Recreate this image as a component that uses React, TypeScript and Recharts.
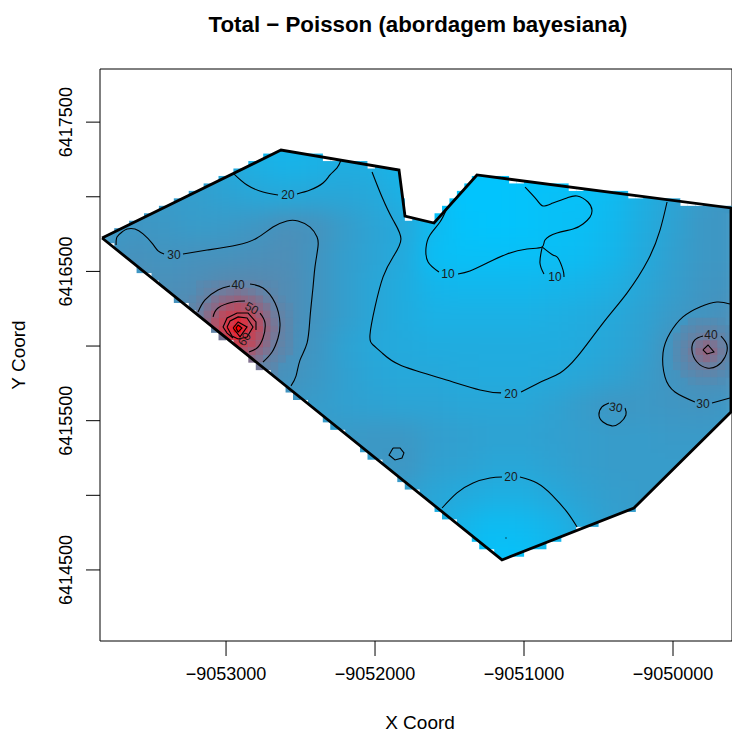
import { ComposedChart, Line, ReferenceArea, Scatter, XAxis, YAxis } from "recharts";

const TITLE = "Total − Poisson (abordagem bayesiana)";
const X_DOMAIN = [-9053846, -9049604];
const Y_DOMAIN = [6414024, 6417856];
const xTicks = [-9053000, -9052000, -9051000, -9050000];
const yTicks = [6414500, 6415000, 6415500, 6416000, 6416500, 6417000, 6417500];
const yLabelled = [6414500, 6415500, 6416500, 6417500];
const RASTER_Y_OFFSET = -11;

// predicted field on a 200 m grid
const fieldX = [
  -9053800, -9053600, -9053400, -9053200, -9053000, -9052800, -9052600, -9052400, -9052200, -9052000, -9051800,
  -9051600, -9051400, -9051200, -9051000, -9050800, -9050600, -9050400, -9050200, -9050000, -9049800, -9049600,
];
const fieldY = [
  6417400, 6417200, 6417000, 6416800, 6416600, 6416400, 6416200, 6416000, 6415800, 6415600, 6415400, 6415200,
  6415000, 6414800, 6414600, 6414400,
];
const fieldRows = [
  [20, 20, 20, 18, 18, 15, 13, 15, 17, 18, 16, 12, 7, 6, 6, 7, 9, 12, 15, 20, 26, 30],
  [24, 24, 24, 22, 20, 17, 15, 16, 18, 17, 14, 10, 7, 6, 6, 7, 9, 12, 16, 21, 27, 30],
  [27, 27, 26, 25, 23, 21, 20, 21, 21, 20, 16, 11, 6, 6, 7, 9, 9, 12, 17, 22, 27, 29],
  [27, 29, 28, 26, 27, 29, 32, 31, 26, 22, 20, 12, 7, 6, 7, 9, 10, 13, 18, 23, 28, 29],
  [30, 31, 30, 31, 31, 32, 33, 30, 25, 22, 19, 10, 9, 9, 9.5, 10, 11, 14, 19, 24, 28, 29],
  [33, 33, 32, 33, 36, 36, 34, 30, 25, 21, 18, 14, 13, 13, 13, 14, 15, 17, 21, 25, 29, 30],
  [34, 34, 35, 36, 38, 38, 34, 30, 25, 21, 18, 16, 16, 16, 16, 17, 18, 20, 23, 27, 30, 32],
  [33, 33, 34, 36, 37, 37, 33, 29, 23, 20, 19, 18, 18, 18, 18, 18, 19, 21, 24, 31, 34, 34],
  [30, 30, 32, 34, 35, 34, 31, 28, 24, 21, 20, 20, 19, 18.5, 18.5, 19.5, 21, 23, 26, 30, 33, 33],
  [28, 28, 28, 28, 29, 30, 28, 26, 24, 23, 22, 22, 21, 21, 21, 23, 26, 29, 28, 29, 30, 28],
  [26, 26, 26, 26, 26, 26, 26, 26, 27, 28, 28, 25, 24, 23, 23, 24, 25, 26, 26, 27, 27, 27],
  [26, 26, 26, 26, 26, 26, 26, 26, 27, 28, 29, 24, 23, 21, 21, 23, 25, 26, 26, 26, 26, 26],
  [26, 26, 26, 26, 26, 26, 26, 26, 26, 26, 24, 21, 19, 17, 17, 20, 23, 25, 26, 26, 26, 26],
  [26, 26, 26, 26, 26, 26, 26, 26, 26, 26, 24, 20, 14, 11, 12, 15, 20, 24, 26, 26, 26, 26],
  [26, 26, 26, 26, 26, 26, 26, 26, 26, 26, 24, 18, 12, 8, 9, 13, 18, 24, 26, 26, 26, 26],
  [26, 26, 26, 26, 26, 26, 26, 26, 26, 26, 24, 18, 12, 8, 9, 13, 18, 24, 26, 26, 26, 26],
];

// the two hot spots on the 50 m grid of the original raster
const hotX = [
  -9053275, -9053225, -9053175, -9053125, -9053075, -9053025, -9052975, -9052925, -9052875, -9052825, -9052775,
  -9052725, -9052675, -9052625, -9052575,
];
const hotY = [
  6416425, 6416375, 6416325, 6416275, 6416225, 6416175, 6416125, 6416075, 6416025, 6415975, 6415925, 6415875,
  6415825,
];
const hotRows = [
  [null, null, 35, 36, 37, 38, 38.5, 39, 38.5, 38, 37, 36, 35, null, null],
  [null, null, 36, 38, 39.5, 41, 42, 43, 42, 41, 39.5, 38, 36, null, null],
  [null, 35.5, 38, 40, 43, 45, 46, 47, 46, 45, 43, 40, 38, 35.5, null],
  [35, 37, 39.5, 43, 45.5, 49, 52, 54, 52, 49, 45.5, 43, 39.5, 37, 35],
  [35.5, 38, 41, 45, 49, 55, 58, 60, 58, 55, 49, 45, 41, 38, 35.5],
  [36, 38.5, 42, 46, 52, 58, 65, 72, 65, 58, 52, 46, 42, 38.5, 36],
  [36, 39, 43, 47, 54, 60, 72, 88, 72, 60, 54, 47, 43, 39, 36],
  [36, 38.5, 42, 46, 52, 58, 65, 72, 65, 58, 52, 46, 42, 38.5, 36],
  [35.5, 38, 41, 45, 49, 55, 58, 60, 58, 55, 49, 45, 41, 38, 35.5],
  [35, 37, 39.5, 43, 45.5, 49, 52, 54, 52, 49, 45.5, 43, 39.5, 37, 35],
  [null, 35.5, 38, 40, 43, 45, 46, 47, 46, 45, 43, 40, 38, 35.5, null],
  [null, null, 36, 38, 39.5, 41, 42, 43, 42, 41, 39.5, 38, 36, null, null],
  [null, null, 35, 36, 37, 38, 38.5, 39, 38.5, 38, 37, 36, 35, null, null],
];
const eastX = [-9049975, -9049925, -9049875, -9049825, -9049775, -9049725, -9049675, -9049625];
const eastY = [6416175, 6416125, 6416075, 6416025, 6415975, 6415925, 6415875, 6415825, 6415775];
const eastRows = [
  [null, null, 33, 34, 34, 34, 33, null],
  [null, 34, 35.5, 37, 37.5, 37, 35.5, 34],
  [33, 35.5, 38, 40, 41, 40, 38, 35.5],
  [34, 37, 40, 43, 45, 43, 40, 37],
  [34, 37.5, 41, 45, 47, 45, 41, 37.5],
  [34, 37, 40, 43, 45, 43, 40, 37],
  [33, 35.5, 38, 40, 41, 40, 38, 35.5],
  [null, 34, 35.5, 37, 37.5, 37, 35.5, 34],
  [null, null, 33, 34, 34, 34, 33, null],
];

// raster cells that stick out past the border: x, y, value
const edgeCells = [
  [-9053725, 6416775, 29], [-9053625, 6416825, 27], [-9053525, 6416875, 26], [-9053425, 6416925, 26],
  [-9053325, 6416975, 25], [-9053225, 6417025, 24], [-9053125, 6417075, 23], [-9053025, 6417125, 21],
  [-9052925, 6417175, 19], [-9052825, 6417225, 16], [-9052725, 6417275, 13], [-9052525, 6417275, 13],
  [-9052475, 6417275, 13], [-9052425, 6417275, 14], [-9052375, 6417275, 14], [-9052225, 6417225, 16],
  [-9052175, 6417225, 17], [-9052125, 6417225, 17], [-9052075, 6417225, 17], [-9051975, 6417175, 17],
  [-9051925, 6417175, 17], [-9051875, 6417175, 16], [-9051825, 6416975, 16], [-9051825, 6416925, 16],
  [-9051575, 6416875, 9], [-9051525, 6416925, 8], [-9051475, 6416975, 7], [-9051425, 6417025, 6],
  [-9051375, 6417075, 6], [-9051325, 6417125, 6], [-9051275, 6417125, 6], [-9051225, 6417125, 6],
  [-9051175, 6417125, 6], [-9051125, 6417125, 6], [-9050975, 6417075, 6], [-9050925, 6417075, 7],
  [-9050875, 6417075, 7], [-9050825, 6417075, 7], [-9050775, 6417075, 8], [-9050725, 6417075, 8],
  [-9050575, 6417025, 10], [-9050525, 6417025, 11], [-9050475, 6417025, 11], [-9050425, 6417025, 12],
  [-9050375, 6417025, 13], [-9050325, 6417025, 14], [-9050175, 6416975, 18], [-9050125, 6416975, 19],
  [-9050075, 6416975, 20], [-9050025, 6416975, 21], [-9049975, 6416975, 22], [-9049775, 6416925, 27],
  [-9049725, 6416925, 27], [-9049675, 6416925, 28], [-9049625, 6416925, 28], [-9053575, 6416525, 29],
  [-9053325, 6416325, 31], [-9053075, 6416125, 38], [-9053025, 6416075, 42], [-9052825, 6415925, 44],
  [-9052775, 6415875, 42], [-9052575, 6415725, 30], [-9052525, 6415675, 29], [-9052325, 6415525, 26],
  [-9052275, 6415475, 25], [-9052075, 6415325, 25], [-9052025, 6415275, 25], [-9051825, 6415125, 27],
  [-9051775, 6415075, 25], [-9051575, 6414925, 17], [-9051525, 6414875, 17], [-9051325, 6414725, 10],
  [-9051275, 6414675, 10], [-9051075, 6414625, 8], [-9051025, 6414625, 9], [-9050925, 6414675, 11],
  [-9050875, 6414675, 12], [-9050825, 6414725, 13], [-9050775, 6414725, 14], [-9050575, 6414825, 20],
  [-9050525, 6414825, 21], [-9050375, 6414925, 24], [-9050325, 6414925, 25], [-9050275, 6414925, 25],
];
// raster cells that stop short of the border
const gapCells = [
  [-9053775, 6416675], [-9053525, 6416475], [-9053475, 6416425], [-9053275, 6416275], [-9053225, 6416225],
  [-9052975, 6416025], [-9052725, 6415825], [-9052475, 6415625], [-9052225, 6415425], [-9051975, 6415225],
  [-9051725, 6415025], [-9051475, 6414825], [-9051225, 6414625], [-9051775, 6416875], [-9051075, 6417125],
  [-9051025, 6417125], [-9050675, 6417075], [-9050625, 6417075], [-9050275, 6417025], [-9050225, 6417025],
  [-9049925, 6416975], [-9049875, 6416975], [-9049825, 6416975], [-9052325, 6417275], [-9052275, 6417275],
  [-9052025, 6417225], [-9050625, 6414775],
];

const borderX = [
  -9053832, -9052631, -9051839, -9051799, -9051604, -9051316, -9049611, -9049611, -9050262, -9051148, -9053832,
];
const borderY = [
  6416724, 6417313, 6417179, 6416871, 6416824, 6417146, 6416925, 6415558, 6414915, 6414567, 6416724,
];

// contour lines, split where a label sits
const c20NorthA = [[-9052953, 6417159], [-9052859, 6417079], [-9052752, 6417032], [-9052651, 6417012]];
const c20NorthB = [[-9052524, 6417019], [-9052436, 6417045], [-9052349, 6417092], [-9052302, 6417146], [-9052255, 6417193], [-9052228, 6417246]];
const c30WestA = [[-9053738, 6416677], [-9053732, 6416731], [-9053698, 6416764], [-9053664, 6416784], [-9053611, 6416784], [-9053557, 6416751], [-9053497, 6416690], [-9053456, 6416637], [-9053416, 6416617]];
const c30WestB = [[-9053289, 6416617], [-9053127, 6416643], [-9052926, 6416677], [-9052792, 6416724], [-9052685, 6416797], [-9052591, 6416838], [-9052517, 6416838], [-9052436, 6416797], [-9052389, 6416731], [-9052383, 6416664], [-9052403, 6416530], [-9052416, 6416396], [-9052436, 6416195], [-9052456, 6416021], [-9052503, 6415907], [-9052530, 6415800], [-9052564, 6415733]];
const c40WestA = [[-9053188, 6416228], [-9053141, 6416309], [-9053054, 6416376], [-9052973, 6416402]];
const c40WestB = [[-9052839, 6416416], [-9052752, 6416389], [-9052671, 6416288], [-9052638, 6416154], [-9052651, 6416054], [-9052691, 6415960], [-9052752, 6415893]];
const c50A = [[-9053087, 6416195], [-9053054, 6416255], [-9052953, 6416295], [-9052873, 6416302]];
const c50B = [[-9052772, 6416221], [-9052738, 6416154], [-9052752, 6416054], [-9052792, 6415987], [-9052846, 6415960]];
const c60 = [[-9052953, 6416054], [-9052993, 6416087], [-9053020, 6416128], [-9052993, 6416188], [-9052926, 6416221], [-9052852, 6416221], [-9052799, 6416161], [-9052799, 6416108]];
const c70 = [[-9052993, 6416128], [-9052973, 6416168], [-9052919, 6416195], [-9052859, 6416188], [-9052819, 6416128], [-9052859, 6416061], [-9052919, 6416047], [-9052960, 6416067], [-9052993, 6416128]];
const c80 = [[-9052953, 6416121], [-9052919, 6416161], [-9052859, 6416128], [-9052906, 6416061], [-9052953, 6416121]];
const c85 = [[-9052933, 6416121], [-9052919, 6416141], [-9052893, 6416121], [-9052919, 6416094], [-9052933, 6416121]];
const c20MidA = [[-9052020, 6417166], [-9051953, 6416998], [-9051879, 6416844], [-9051826, 6416717], [-9051879, 6416597], [-9051946, 6416463], [-9052000, 6416262], [-9052034, 6416074], [-9052013, 6416007], [-9051953, 6415954], [-9051832, 6415873], [-9051564, 6415786], [-9051295, 6415706], [-9051154, 6415686]];
const c20MidB = [[-9051020, 6415692], [-9050859, 6415773], [-9050758, 6415820], [-9050644, 6415927], [-9050470, 6416154], [-9050309, 6416355], [-9050168, 6416576], [-9050087, 6416777], [-9050040, 6416965]];
const c10A = [[-9051517, 6416925], [-9051564, 6416831], [-9051631, 6416744], [-9051658, 6416657], [-9051644, 6416563], [-9051571, 6416496]];
const c10B = [[-9051443, 6416483], [-9051363, 6416503], [-9051248, 6416556], [-9051114, 6416617], [-9050980, 6416650], [-9050879, 6416664], [-9050859, 6416710], [-9050779, 6416757], [-9050671, 6416784], [-9050604, 6416818], [-9050557, 6416864], [-9050544, 6416911], [-9050571, 6416965], [-9050644, 6417005], [-9050712, 6416992], [-9050806, 6416958], [-9050873, 6416938], [-9050913, 6416978], [-9050993, 6417065]];
const c10C = [[-9050879, 6416664], [-9050806, 6416610], [-9050772, 6416590], [-9050738, 6416509], [-9050732, 6416463]];
const c10D = [[-9050879, 6416657], [-9050893, 6416556], [-9050866, 6416483]];
const c30EastA = [[-9049618, 6416282], [-9049705, 6416295], [-9049819, 6416262], [-9049933, 6416195], [-9050020, 6416087], [-9050067, 6415954], [-9050054, 6415793], [-9049987, 6415692], [-9049853, 6415625]];
const c30EastB = [[-9049738, 6415619], [-9049618, 6415652]];
const c40East = [[-9049799, 6416067], [-9049853, 6416041], [-9049873, 6415974], [-9049839, 6415893], [-9049772, 6415853], [-9049705, 6415866], [-9049651, 6415927], [-9049638, 6416007], [-9049678, 6416067]];
const c45East = [[-9049799, 6415974], [-9049765, 6416007], [-9049725, 6415960], [-9049772, 6415947], [-9049799, 6415974]];
const c30Spot = [[-9050430, 6415619], [-9050477, 6415592], [-9050497, 6415538], [-9050470, 6415491], [-9050410, 6415465], [-9050356, 6415485], [-9050316, 6415538], [-9050322, 6415585]];
const c30Small = [[-9051879, 6415317], [-9051906, 6415270], [-9051866, 6415237], [-9051819, 6415250], [-9051806, 6415284], [-9051832, 6415317], [-9051879, 6415317]];
const c20SouthA = [[-9051550, 6414915], [-9051450, 6415016], [-9051342, 6415083], [-9051228, 6415116], [-9051148, 6415123]];
const c20SouthB = [[-9051027, 6415123], [-9050913, 6415083], [-9050812, 6415002], [-9050712, 6414889], [-9050644, 6414788]];
const c10Dot = [[-9051125, 6414714], [-9051117, 6414714]];
const contours = [
  c20NorthA, c20NorthB, c30WestA, c30WestB, c40WestA, c40WestB, c50A, c50B, c20MidA, c20MidB,
  c10A, c10B, c10C, c10D, c30EastA, c30EastB, c40East, c30Spot, c20SouthA, c20SouthB,
];
// small rings keep the corners they have in the picture
const angularContours = [c60, c70, c80, c85, c45East, c30Small, c10Dot];

const labelX = [-9052584, -9053349, -9052919, -9052826, -9052879, -9051510, -9050792, -9051087, -9049799, -9049745, -9050383, -9051087];
const labelY = [6417012, 6416610, 6416409, 6416255, 6416047, 6416489, 6416463, 6415679, 6415612, 6416074, 6415592, 6415123];
const labelText = ["20", "30", "40", "50", "60", "10", "10", "20", "30", "40", "30", "20"];
const labelAngle = [0, 0, 0, 30, -55, 0, 0, 0, 0, 0, 10, 0];

const COLOR_STOPS: [number, number[]][] = [
  [5, [0, 198, 255]],
  [10, [10, 190, 245]],
  [20, [38, 168, 218]],
  [30, [66, 148, 192]],
  [40, [105, 128, 162]],
  [50, [165, 88, 112]],
  [60, [200, 65, 82]],
  [75, [235, 35, 50]],
  [88, [255, 0, 0]],
];

function heatColor(v: number) {
  for (let i = 1; i < COLOR_STOPS.length; i++) {
    const [v1, c1] = COLOR_STOPS[i];
    const [v0, c0] = COLOR_STOPS[i - 1];
    if (v <= v1) {
      const t = Math.max(0, (v - v0) / (v1 - v0));
      return `rgb(${c0.map((c, k) => Math.round(c + (c1[k] - c) * t)).join(",")})`;
    }
  }
  return "rgb(255,0,0)";
}

function gridCells(xs: number[], ys: number[], rows: (number | null)[][]) {
  return rows.flatMap((row, r) =>
    row.flatMap((v, c) => (v == null ? [] : [{ x: xs[c], y: ys[r], v }]))
  );
}

const pairs = (line: number[][]) => line.map(([x, y]) => ({ x, y }));
const onRaster = (cell: { x: number; y: number; v?: number }) => ({ ...cell, y: cell.y + RASTER_Y_OFFSET });

const fieldCells = gridCells(fieldX, fieldY, fieldRows);
const hotCells = [...gridCells(hotX, hotY, hotRows), ...gridCells(eastX, eastY, eastRows)].map(onRaster);
const edgeData = edgeCells.map(([x, y, v]) => onRaster({ x, y, v }));
const gapData = gapCells.map(([x, y]) => onRaster({ x, y }));
const borderData = borderX.map((x, i) => ({ x, y: borderY[i] }));
const labelData = labelX.map((x, i) => ({ x, y: labelY[i], text: labelText[i], angle: labelAngle[i] }));

function cellShape(size: number) {
  return (p: any) => (
    <rect
      x={p.cx - size / 2}
      y={p.cy - size / 2}
      width={size}
      height={size}
      fill={p.payload.v == null ? "#fff" : heatColor(p.payload.v)}
    />
  );
}

const noDot = () => <g />;

function ContourLabel(p: any) {
  return (
    <text
      x={p.cx}
      y={p.cy}
      dy={4.5}
      textAnchor="middle"
      fontSize={12}
      fill="#1a1a1a"
      transform={`rotate(${p.payload.angle} ${p.cx} ${p.cy})`}
    >
      {p.payload.text}
    </text>
  );
}

function BorderClip(p: any) {
  if (p.index !== 0 || !p.points) return <g key={p.index} />;
  return (
    <clipPath key="clip" id="fieldClip">
      <polygon points={p.points.map((q: any) => `${q.x},${q.y}`).join(" ")} />
    </clipPath>
  );
}

function YTick(p: any) {
  const { x, y, payload } = p;
  if (!yLabelled.includes(payload.value)) return <g />;
  return (
    <text x={x} y={y} fontSize={18} fill="#000" textAnchor="middle" transform={`rotate(-90 ${x} ${y})`}>
      {payload.value}
    </text>
  );
}

export default function App() {
  return (
    <div
      style={{
        position: "absolute",
        left: 0,
        top: 0,
        width: 732,
        height: 733,
        overflow: "hidden",
        background: "#fff",
        fontFamily: '"Liberation Sans", Arial, sans-serif',
      }}
    >
      <style>{`.heat-field { filter: url(#fieldBlur); clip-path: url(#fieldClip); } .heat-clip { clip-path: url(#fieldClip); }`}</style>
      <ComposedChart width={732} height={733} margin={{ top: 69, right: 0, bottom: 0, left: 0 }}>
        <defs>
          <filter id="fieldBlur" x="-5%" y="-5%" width="110%" height="110%" colorInterpolationFilters="sRGB">
            <feGaussianBlur stdDeviation="11" />
          </filter>
        </defs>
        <XAxis
          dataKey="x"
          type="number"
          domain={X_DOMAIN}
          allowDataOverflow
          ticks={xTicks}
          interval={0}
          height={92}
          tickSize={15}
          tickMargin={11}
          axisLine={false}
          tick={{ fontSize: 18, fill: "#000" }}
          tickLine={{ stroke: "#000" }}
          tickFormatter={(v: number) => `−${Math.abs(v)}`}
        />
        <YAxis
          dataKey="y"
          type="number"
          domain={Y_DOMAIN}
          allowDataOverflow
          ticks={yTicks}
          interval={0}
          width={100}
          tickSize={14}
          tickMargin={14}
          axisLine={false}
          tick={YTick}
          tickLine={{ stroke: "#000" }}
        />
        {/* only here to hand the border's pixel points to the clip path */}
        <Line
          data={borderData}
          dataKey="y"
          type="linear"
          stroke="none"
          dot={BorderClip}
          activeDot={false}
          isAnimationActive={false}
        />
        <Scatter data={edgeData} shape={cellShape(7.6)} isAnimationActive={false} />
        <Scatter className="heat-field" data={fieldCells} shape={cellShape(30.6)} isAnimationActive={false} />
        <Scatter className="heat-clip" data={hotCells} shape={cellShape(7.6)} isAnimationActive={false} />
        <Scatter data={gapData} shape={cellShape(7.4)} isAnimationActive={false} />
        {contours.map((line, i) => (
          <Scatter
            key={i}
            data={pairs(line)}
            line={{ stroke: "#000", strokeWidth: 1.1 }}
            lineJointType="natural"
            shape={noDot}
            isAnimationActive={false}
          />
        ))}
        {angularContours.map((line, i) => (
          <Scatter
            key={`a${i}`}
            data={pairs(line)}
            line={{ stroke: "#000", strokeWidth: 1.1 }}
            lineJointType="linear"
            shape={noDot}
            isAnimationActive={false}
          />
        ))}
        <Scatter data={labelData} shape={ContourLabel} isAnimationActive={false} />
        <Scatter
          data={borderData}
          line={{ stroke: "#000", strokeWidth: 2.8 }}
          lineJointType="linear"
          shape={noDot}
          isAnimationActive={false}
        />
        <ReferenceArea
          x1={X_DOMAIN[0]}
          x2={X_DOMAIN[1]}
          y1={Y_DOMAIN[0]}
          y2={Y_DOMAIN[1]}
          fill="none"
          stroke="#000"
          strokeWidth={1}
        />
        <text x={418} y={32} textAnchor="middle" fontSize={22.3} fontWeight="bold" fill="#000">
          {TITLE}
        </text>
        <text x={420} y={729} textAnchor="middle" fontSize={19} fill="#000">
          X Coord
        </text>
        <text x={25} y={355} textAnchor="middle" fontSize={19} fill="#000" transform="rotate(-90 25 355)">
          Y Coord
        </text>
      </ComposedChart>
    </div>
  );
}
